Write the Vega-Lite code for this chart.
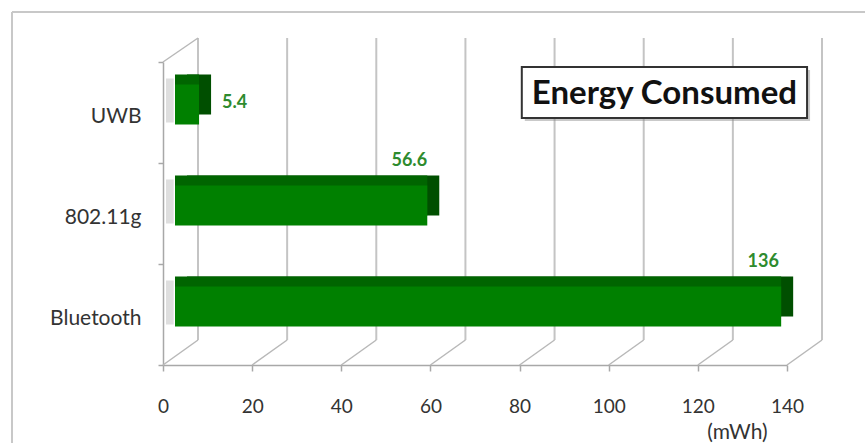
{
  "$schema": "https://vega.github.io/schema/vega-lite/v6.json",
  "width": 624,
  "height": 303,
  "autosize": "none",
  "padding": {"left": 163, "top": 62, "right": 78, "bottom": 78},
  "background": "white",
  "config": {"view": {"stroke": null}, "font": "Lato"},
  "datasets": {
    "bars": [
      {"tech": "UWB", "mWh": 5.4},
      {"tech": "802.11g", "mWh": 56.6},
      {"tech": "Bluetooth", "mWh": 136}
    ],
    "grid": [{"v": 0}, {"v": 20}, {"v": 40}, {"v": 60}, {"v": 80}, {"v": 100}, {"v": 120}, {"v": 140}],
    "one": [{}]
  },
  "layer": [
    {
      "data": {"name": "one"},
      "mark": {"type": "rule", "color": "#c8c8c8", "strokeWidth": 2, "xOffset": -151, "yOffset": -50, "y2Offset": 78},
      "encoding": {
        "x": {"datum": 0, "type": "quantitative"},
        "y": {"datum": "UWB", "bandPosition": 0, "type": "nominal"},
        "y2": {"datum": "Bluetooth", "bandPosition": 1}
      }
    },
    {
      "data": {"name": "one"},
      "mark": {"type": "rule", "color": "#c8c8c8", "strokeWidth": 2, "xOffset": -151, "x2Offset": 80, "yOffset": -50},
      "encoding": {
        "x": {"datum": 0, "type": "quantitative"},
        "x2": {"datum": 140},
        "y": {"datum": "UWB", "bandPosition": 0, "type": "nominal"}
      }
    },
    {
      "data": {"name": "grid"},
      "mark": {"type": "rule", "color": "#c4c4c4", "strokeWidth": 2, "xOffset": 35, "x2Offset": 35, "yOffset": -24, "y2Offset": -25},
      "encoding": {
        "x": {"field": "v", "type": "quantitative"},
        "y": {"datum": "UWB", "bandPosition": 0, "type": "nominal"},
        "y2": {"datum": "Bluetooth", "bandPosition": 1}
      }
    },
    {
      "data": {"name": "grid"},
      "mark": {"type": "rule", "color": "#b8b8b8", "strokeWidth": 1.5, "x2Offset": 35, "y2Offset": -25},
      "encoding": {
        "x": {"field": "v", "type": "quantitative"},
        "x2": {"field": "v"},
        "y": {"datum": "Bluetooth", "bandPosition": 1, "type": "nominal"},
        "y2": {"datum": "Bluetooth", "bandPosition": 1}
      }
    },
    {
      "data": {"name": "one"},
      "mark": {"type": "rule", "color": "#b8b8b8", "strokeWidth": 1.5, "x2Offset": 35, "y2Offset": -24},
      "encoding": {
        "x": {"datum": 0, "type": "quantitative"},
        "x2": {"datum": 0},
        "y": {"datum": "UWB", "bandPosition": 0, "type": "nominal"},
        "y2": {"datum": "UWB", "bandPosition": 0}
      }
    },
    {
      "data": {"name": "bars"},
      "mark": {"type": "bar", "color": "#d6d6d6", "opacity": 0.8, "height": 44, "xOffset": 0, "x2Offset": 3, "yOffset": -12},
      "encoding": {
        "x": {"datum": 2.4, "type": "quantitative"},
        "x2": {"datum": 0},
        "y": {"field": "tech", "type": "nominal"}
      }
    },
    {
      "data": {"name": "bars"},
      "mark": {"type": "bar", "color": "#004f00", "height": 40, "xOffset": 24, "x2Offset": 24, "yOffset": -18},
      "encoding": {
        "x": {"field": "mWh", "type": "quantitative"},
        "y": {"field": "tech", "type": "nominal"}
      }
    },
    {
      "data": {"name": "bars"},
      "mark": {"type": "bar", "color": "#006500", "height": 40, "xOffset": 12, "x2Offset": 24, "yOffset": -18},
      "encoding": {
        "x": {"field": "mWh", "type": "quantitative"},
        "y": {"field": "tech", "type": "nominal"}
      }
    },
    {
      "data": {"name": "bars"},
      "mark": {"type": "bar", "color": "#008000", "height": 40, "xOffset": 12, "x2Offset": 12, "yOffset": -8},
      "encoding": {
        "x": {
          "field": "mWh",
          "type": "quantitative",
          "scale": {"domain": [0, 140], "nice": false, "zero": true},
          "axis": {
            "values": [0, 20, 40, 60, 80, 100, 120, 140],
            "grid": false,
            "domainColor": "#a8a8a8",
            "domainWidth": 1.5,
            "tickColor": "#a8a8a8",
            "tickWidth": 1.5,
            "tickSize": 6,
            "labelFontSize": 19,
            "labelColor": "#333333",
            "labelPadding": 26,
            "labelFlush": false,
            "title": "(mWh)",
            "titleFontSize": 21,
            "titleFontWeight": "normal",
            "titleColor": "#333333",
            "titleX": 574,
            "titleY": 67,
            "titleBaseline": "middle",
            "titleAlign": "center"
          }
        },
        "y": {
          "field": "tech",
          "type": "nominal",
          "scale": {"domain": ["UWB", "802.11g", "Bluetooth"], "paddingInner": 0, "paddingOuter": 0},
          "axis": {
            "title": null,
            "grid": false,
            "domainColor": "#a8a8a8",
            "domainWidth": 1.5,
            "tickColor": "#a8a8a8",
            "tickWidth": 1.5,
            "tickSize": 5,
            "tickBand": "extent",
            "labelFontSize": 21,
            "labelColor": "#333333",
            "labelPadding": 17,
            "labelOffset": 4
          }
        }
      }
    },
    {
      "data": {"name": "bars"},
      "transform": [{"filter": "datum.mWh >= 10"}],
      "mark": {"type": "text", "color": "#2e8b2e", "fontWeight": "bold", "fontSize": 18, "align": "center", "baseline": "middle", "xOffset": -6, "yOffset": -53},
      "encoding": {
        "x": {"field": "mWh", "type": "quantitative"},
        "y": {"field": "tech", "type": "nominal"},
        "text": {"field": "mWh", "type": "quantitative"}
      }
    },
    {
      "data": {"name": "bars"},
      "transform": [{"filter": "datum.mWh < 10"}],
      "mark": {"type": "text", "color": "#2e8b2e", "fontWeight": "bold", "fontSize": 18, "align": "left", "baseline": "middle", "xOffset": 35, "yOffset": -10},
      "encoding": {
        "x": {"field": "mWh", "type": "quantitative"},
        "y": {"field": "tech", "type": "nominal"},
        "text": {"field": "mWh", "type": "quantitative"}
      }
    },
    {
      "data": {"name": "one"},
      "mark": {"type": "bar", "color": "#888888", "opacity": 0.45, "height": 51, "yOffset": -17, "xOffset": 3, "x2Offset": 3},
      "encoding": {
        "x": {"datum": 80.5, "type": "quantitative"},
        "x2": {"datum": 144.5},
        "y": {"datum": "UWB", "type": "nominal"}
      }
    },
    {
      "data": {"name": "one"},
      "mark": {"type": "bar", "fill": "white", "stroke": "#333333", "strokeWidth": 2, "height": 51, "yOffset": -20},
      "encoding": {
        "x": {"datum": 80.5, "type": "quantitative"},
        "x2": {"datum": 144.5},
        "y": {"datum": "UWB", "type": "nominal"}
      }
    },
    {
      "data": {"name": "one"},
      "mark": {"type": "text", "text": "Energy Consumed", "fontSize": 33, "fontWeight": "bold", "color": "#111111", "align": "center", "baseline": "middle", "yOffset": -19},
      "encoding": {
        "x": {"datum": 112.5, "type": "quantitative"},
        "y": {"datum": "UWB", "type": "nominal"}
      }
    }
  ]
}
